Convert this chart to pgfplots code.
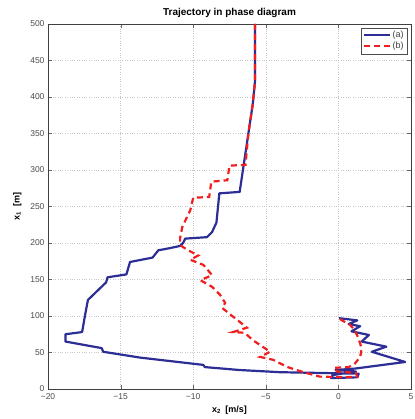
\documentclass[border=0pt]{standalone}
\usepackage{fontspec}
\setmainfont{Liberation Sans}
\usepackage{pgfplots}
\pgfplotsset{compat=1.18}
\definecolor{myblue}{RGB}{45,45,150}
\definecolor{myred}{RGB}{240,30,30}
\begin{document}
\begin{tikzpicture}
\begin{axis}[
  name=ax,
  scale only axis, width=363pt, height=365pt,
  xmin=-20, xmax=5, ymin=0, ymax=500,
  xtick={-20,-15,-10,-5,0,5},
  xticklabels={−20,−15,−10,−5,0,5},
  ytick={0,50,...,500},
  tick align=inside, tick pos=both,
  major tick length=4pt,
  grid=major, grid style={dotted, black!22},
  axis line style={black!75},
  tick style={black!60},
  ticklabel style={font=\fontsize{8.5}{9}\selectfont, text=black!70},
  xticklabel style={yshift=-1.5pt},
  /pgf/number format/assume math mode=true,
  title={Trajectory in phase diagram},
  title style={font=\bfseries\fontsize{10}{11}\selectfont, yshift=-3pt},
  xlabel={x\textsubscript{2}\enspace[m/s]},
  ylabel={x\textsubscript{1}\enspace[m]},
  xlabel style={font=\bfseries\fontsize{9}{10}\selectfont, yshift=1pt},
  ylabel style={font=\bfseries\fontsize{9}{10}\selectfont, yshift=2pt},
  legend style={at={(0.99,0.99)}, anchor=north east, font=\fontsize{9}{10}\selectfont,
    draw=black!70, inner sep=1.5pt, row sep=-1pt, text=black!75},
  legend image post style={xscale=1.5},
  legend cell align=left,
]
\addplot[myblue, line width=2.2pt, line join=round] coordinates {
(-5.75,500) (-5.75,420) (-5.9,390) (-6.2,350) (-6.5,310) (-6.8,270)
(-8.2,268) (-8.4,228) (-8.7,215) (-9.05,208) (-10.55,206) (-10.7,200)
(-10.9,196) (-11.6,193) (-12.4,190) (-12.8,180) (-14.35,174) (-14.6,157)
(-15.9,153) (-16.0,146) (-17.25,122) (-17.45,101) (-17.65,78) (-18.8,75)
(-18.8,65) (-16.3,56) (-16.2,51) (-13.65,43) (-9.3,33) (-9.2,30)
(-6.8,26) (-4.0,23) (-1.3,22) (1.4,21) (1.3,16) (-0.5,15) (-0.4,19)
(1.2,24) (-0.2,26) (1.15,28) (4.6,37) (2.3,51) (3.3,58) (1.6,65)
(2.1,74) (0.9,79) (1.5,86) (0.7,89) (1.3,94) (0.05,97)
};
\addlegendentry{(a)}
\addplot[myred, line width=2.2pt, dash pattern=on 6pt off 4pt] coordinates {
(-5.75,500) (-5.75,420) (-5.9,390) (-6.2,350) (-6.4,307) (-7.5,306)
(-7.65,286) (-8.75,284) (-8.9,263) (-10.0,262) (-10.2,245) (-10.75,222)
(-10.9,207) (-10.9,197) (-10.35,190) (-9.65,183) (-10.2,177) (-9.3,170)
(-8.7,156) (-9.5,149) (-8.7,140) (-8.15,129) (-7.8,118) (-8.0,111)
(-7.25,99) (-6.8,92) (-6.3,84) (-7.25,78) (-6.45,77) (-5.9,67)
(-4.7,51) (-5.4,44) (-4.5,40) (-3.5,30) (-2.4,23) (-1.3,17)
(0.5,16) (1.3,17) (1.2,22) (-0.1,24) (-0.3,29) (0.7,30) (1.1,34)
(1.5,44) (1.6,55) (1.5,62) (1.35,71) (1.1,81) (0.8,88) (0.25,94) (0.1,96)
};
\addlegendentry{(b)}
\end{axis}
\pgfresetboundingbox
\path ([xshift=-48pt,yshift=-30pt]ax.south west) rectangle ([xshift=3pt,yshift=24pt]ax.north east);
\end{tikzpicture}
\end{document}
